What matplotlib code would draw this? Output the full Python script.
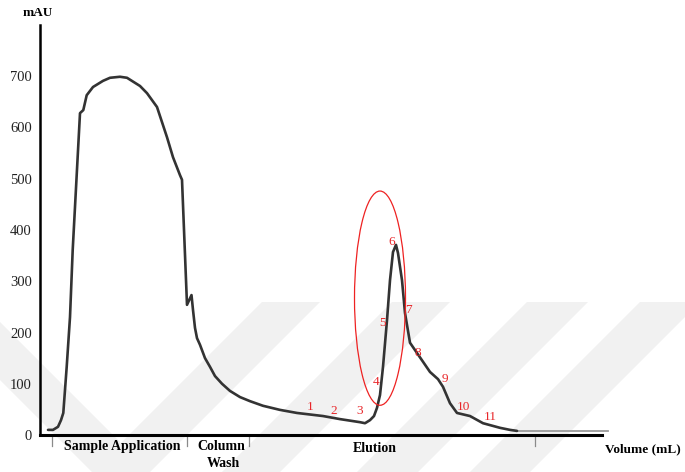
import matplotlib
matplotlib.use("Agg")
import matplotlib.pyplot as plt
from matplotlib.patches import Ellipse, Polygon
from matplotlib.transforms import Affine2D

plt.rcParams['font.family'] = ['Liberation Serif', 'DejaVu Serif']

# ---- data ----
volume = [0.8, 1.3, 1.8, 2.1, 2.33, 2.67, 3.0, 3.27, 4.0, 4.33, 4.67, 5.3, 6.3, 7.0, 8.0,
          8.7, 10.0, 10.7, 11.7, 12.7, 13.3, 14.0, 14.2, 14.7, 15.15, 15.3, 15.5, 15.7,
          16.0, 16.5, 17.0, 17.5, 18.2, 19.0, 20.0, 21.0, 22.3, 24.0, 25.7, 28.3,
          30.0, 32.0, 32.5, 33.0, 33.4, 33.7,
          34.0, 34.3, 34.7, 35.0, 35.3, 35.6, 35.8, 36.2, 36.5, 37.0, 37.7, 39.0,
          39.8, 40.3, 41.0, 41.7, 43.0, 44.3, 46.0, 47.0, 47.7]
mau = [10, 10, 16, 29, 43, 133, 230, 361, 628, 634, 663, 679, 691, 697, 699,
       697, 681, 667, 640, 581, 542, 507, 498, 254, 273, 244, 209, 189,
       176, 150, 133, 115, 100, 86, 74, 66, 57, 49, 43, 37,
       31, 25, 23, 29, 37, 53,
       78, 133, 224, 302, 357, 371, 355, 302, 238, 180, 160, 123,
       109, 94, 62, 43, 37, 23, 14, 10, 8]
tail_volume = [47.7, 56.8]
tail_mau = [8, 8]

fraction_labels = ['1', '2', '3', '4', '5', '6', '7', '8', '9', '10', '11']
fraction_volume = [27.0, 29.4, 32.0, 33.6, 34.3, 35.2, 36.8, 37.8, 40.5, 42.3, 45.0]
fraction_mau = [55, 47, 47, 103, 219, 377, 244, 160, 109, 55, 35]

yticks = [0, 100, 200, 300, 400, 500, 600, 700]
phase_bounds = [1.2, 14.7, 20.9, 49.5]
phase_names = ['Sample Application', 'Column\nWash', 'Elution']
phase_label_x = [8.2, 18.1, 33.5]

# ---- figure ----
W, H = 685, 472
fig = plt.figure(figsize=(W / 100, H / 100), dpi=100)

# faint watermark bands (pixel coords, y downwards)
px = Affine2D().scale(1 / W, -1 / H).translate(0, 1) + fig.transFigure
wm = '#f1f1f1'
bands = [
    [(0, 322), (0, 380), (92, 472), (150, 472)],
    [(92, 472), (150, 472), (320, 302), (262, 302)],
    [(222, 472), (280, 472), (450, 302), (392, 302)],
    [(357, 472), (418, 472), (588, 302), (527, 302)],
    [(470, 472), (530, 472), (700, 302), (640, 302)],
]
for b in bands:
    fig.patches.append(Polygon(b, closed=True, transform=px, facecolor=wm,
                               edgecolor='none', zorder=-5))

ax = fig.add_axes([40 / W, (H - 435) / H, 562 / W, 410 / H])
ax.set_zorder(1)
ax.set_facecolor('none')
ax.set_xlim(0, 56.2)
ax.set_ylim(0, 800)

ax.plot(volume, mau, color='#333333', lw=1.9, solid_joinstyle='round',
        solid_capstyle='round', zorder=3)
ax.plot(tail_volume, tail_mau, color='#9a9a9a', lw=1.3, clip_on=False, zorder=2)

for lab, xv, yv in zip(fraction_labels, fraction_volume, fraction_mau):
    ax.text(xv, yv, lab, color='#e8262a', fontsize=9.5, ha='center', va='center',
            zorder=4)

ax.add_patch(Ellipse((34.0, 267), 5.1, 418, facecolor='none', edgecolor='#ee2222',
                     lw=0.9, zorder=4))

# spines / ticks
for s in ['top', 'right']:
    ax.spines[s].set_visible(False)
ax.spines['left'].set_linewidth(1.8)
ax.spines['bottom'].set_linewidth(2.2)
ax.set_xticks([])
ax.set_yticks(yticks)
ax.set_yticklabels([str(t) for t in yticks])
ax.tick_params(axis='y', length=0, pad=6, labelsize=10.5, labelcolor='#222222')

# phase separators and labels below the axis
for b in phase_bounds:
    ax.plot([b, b], [-4, -22], color='#8a8a8a', lw=0.9, clip_on=False)
ax.text(phase_label_x[0], -23, phase_names[0], ha='center', va='center',
        fontsize=10, fontweight='bold', clip_on=False)
ax.text(phase_label_x[1], -23, 'Column', ha='center', va='center',
        fontsize=10, fontweight='bold', clip_on=False)
ax.text(phase_label_x[1] + 0.2, -55, 'Wash', ha='center', va='center',
        fontsize=10, fontweight='bold', clip_on=False)
ax.text(phase_label_x[2], -27, phase_names[2], ha='center', va='center',
        fontsize=10, fontweight='bold', clip_on=False)
ax.text(56.5, -27, 'Volume (mL)', ha='left', va='center',
        fontsize=9.5, fontweight='bold', clip_on=False)

fig.text(37.7 / W, 1 - 13 / H, 'mAU', ha='center', va='center', fontsize=9.5,
         fontweight='bold')

fig.savefig('out.png', dpi=100)
